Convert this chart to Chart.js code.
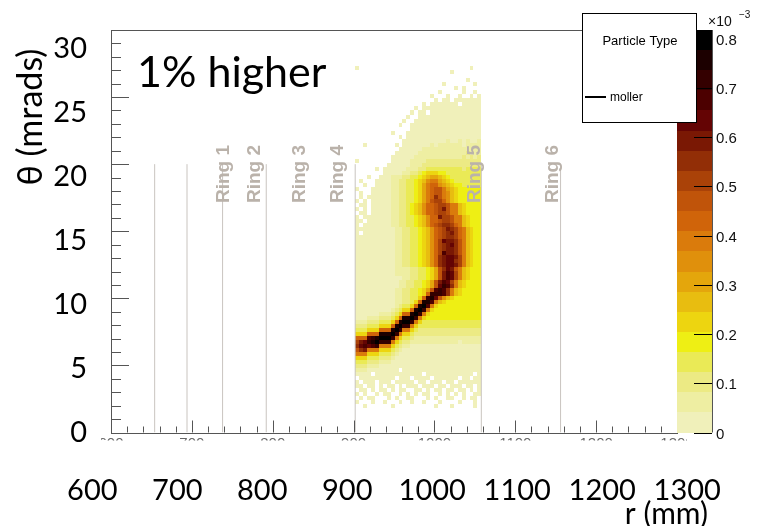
<!DOCTYPE html>
<html>
<head>
<meta charset="utf-8">
<script src="https://cdn.jsdelivr.net/npm/chart.js@4.4.0/dist/chart.umd.min.js"></script>
<style>
  html, body { margin: 0; padding: 0; background: #fff; }
  #wrap { width: 758px; height: 526px; }
</style>
</head>
<body>
<div id="wrap"><canvas id="c"></canvas></div>
<script>
// histogram binning (r in mm, theta in mrad)
const rMin = 902, rMax = 1058;
const thetaMin = 1.8, thetaStep = 0.3;
const zMax = 0.818;          // top of the colour scale, x1e-3
const nLevels = 20;

// one string per theta row, top row first; one char per r bin
// '.' = empty, '0'..'9','a'..'j' = colour level 0..19
const cells = [
  "........ ........ ........ ........",
  "........ ........ ........ ........",
  "0....... ........ ........ .....0..",
  "........ ........ ........ 0.......",
  "........ ........ ........ ........",
  "........ ........ ........ ....0...",
  "........ ........ ......0. ......0.",
  "........ ........ ........ .0.0....",
  "........ ........ .....0.. ...0..0.",
  "........ ........ ...0...0 ..0..0.0",
  "........ ........ ....0.00 .0000000",
  "........ ........ .0.00000 00.00000",
  "........ .......0 .0000000 00000000",
  "........ ......0. 00.00000 00000000",
  "........ .....0.. 00000000 00000000",
  "........ ....0..0 00000000 00000000",
  "........ ...0..00 00000000 00000000",
  "........ ......00 00000000 00000000",
  "........ .0...000 00000000 00000000",
  "........ ...0.000 00000000 00000000",
  "........ ....0000 00000001 00101001",
  "..0..... ..0.0000 00010111 11101111",
  "........ ...00000 01111111 11111111",
  "........ ..000000 11111111 11112111",
  "........ .0000001 11111111 11121212",
  "0....... .0000011 11222222 22222222",
  "........ 00000011 12222222 22222222",
  ".....0.0 00000111 22333333 33323333",
  ".......0 00001122 34555443 33333333",
  "...0..00 01112233 45677654 33333333",
  ".0...000 01122334 56899765 43333333",
  "..0..000 01122334 579aa876 54433333",
  "0...0000 01122334 579abb97 65444444",
  ".0..0000 01122334 579abb98 65444444",
  ".0.00000 01122334 579adb98 65444444",
  "0.0.0000 01122334 579bcca8 65444444",
  ".00.0000 01122345 68aabccb 99654444",
  "0.0.0000 01122345 68aabceb 99654444",
  ".00.0000 01122345 68aabccb 99654444",
  "0.000000 01122334 568aaecc b9965444",
  "00.00000 01122334 568aabcc b9965444",
  "0.000000 01122334 568abcdd ca965444",
  "00000000 00112233 4568abce dca96544",
  "0.000000 00112233 4568abcd eca96544",
  "00000000 00112233 4568abcd dca96544",
  "00000000 00112233 4568acfe edb96544",
  "00000000 00112233 4568acde fdb96544",
  "00000000 00112233 4568acde edb96544",
  "00000000 00112233 4568acge edb96544",
  "00000000 00112233 4568adef fec96544",
  "00000000 00112233 4568adef fdc96544",
  "00000000 00112233 4568adef fec96544",
  "00000000 00111122 33457bdf eb965444",
  "00000000 00111122 33457beg fc965444",
  "00000000 00001122 33457beg fc965444",
  "00000000 00011223 3457begf c9654444",
  "00000000 00011223 3457bfhg d9654444",
  "00000000 00112233 457bghgd 96544444",
  "00000000 00112233 45ahhhgd 96544444",
  "00000000 00112233 5ahifb86 54444444",
  "00000000 00112235 aiig9654 44444444",
  "00000000 0012335a ijg95444 44444444",
  "00000000 012355ai jh954444 44444444",
  "00000011 1235aaij h9544444 44444444",
  "00011122 235aiijh 95444444 44444444",
  "11122233 35aijjh9 53333333 33333333",
  "22233355 5aijhh95 33333333 33333333",
  "333555aa aijh9953 22222222 22222222",
  "555aaaii ijh95532 22222222 22222222",
  "aaaghijj jh953321 11111111 11111111",
  "cefhijhh h9532211 11111111 11011111",
  "dfgfgh99 95321100 00000000 00000000",
  "bde99955 53210000 00000000 00000000",
  "99955533 32100000 00000000 00000000",
  "55533322 21000000 00000000 00000000",
  "33322211 10000000 00000000 00000000",
  "22211100 00000000 00000000 00000000",
  "11100000 000.0000 00000000 00000000",
  "0000.000 00000000 0.000000 000000.0",
  ".0000000 00.000.0 000.0000 00.00.00",
  "0.000.00 0.00000. 00.000.0 0.000000",
  "00.00.0. 00.0.000 .000.00. 000.00.0",
  ".00.0.00 .0.00..0 0.0.00.0 0.00.0.0",
  "0.0..0.0 0..0.0.0 .00..0.0 .0.0..00",
  ".0.00... 0.0..00. ..0.0..0 0..0.00.",
  "0...0..0 ...0..0. .0...0.. ..0...0.",
  "..0..... .0...... ....0... 0.....0."
];

// ring boundaries (mm), drawn up to ringTop mrad
const ringR = [654, 694, 738, 792, 902, 1058, 1156];
const ringTop = 20;
const ringNames = ["Ring 1", "Ring 2", "Ring 3", "Ring 4", "Ring 5", "Ring 6"];
const ringLabelR = [740, 778, 834, 881, 1050, 1146];
const ringLabelTheta = 17.1;

const xTicks = [600, 700, 800, 900, 1000, 1100, 1200, 1300];
const yTicks = [0, 5, 10, 15, 20, 25, 30];
const zTicks = [0, 0.1, 0.2, 0.3, 0.4, 0.5, 0.6, 0.7, 0.8];

// inverted dark body radiator
const palette = [
  "#f0f0ba", "#eeeea2", "#ecea84", "#eaea56", "#eeef14",
  "#edd510", "#e8bd10", "#e4a60c", "#e0900c", "#da7b0c",
  "#d0640a", "#c0540a", "#aa4208", "#922e06", "#7a1804",
  "#640404", "#4c0000", "#340000", "#1c0000", "#000000"
];

const bigFont = { family: "Lato, 'Open Sans', sans-serif", size: 29 };
const rootFont = "'Liberation Sans', Arial, sans-serif";

function drawCells(chart) {
  const ctx = chart.ctx;
  const xs = chart.scales.xr, ys = chart.scales.yr;
  const rows = cells.map(s => s.replace(/ /g, ""));
  const nCols = rows[0].length;
  const rStep = (rMax - rMin) / nCols;
  ctx.save();
  rows.forEach((row, k) => {
    const th0 = thetaMin + (rows.length - 1 - k) * thetaStep;
    const y0 = Math.round(ys.getPixelForValue(th0 + thetaStep));
    const y1 = Math.round(ys.getPixelForValue(th0));
    for (let c = 0; c < nCols; c++) {
      const ch = row[c];
      if (ch === ".") continue;
      const value = (parseInt(ch, 36) + 0.5) * zMax / nLevels;
      const lvl = Math.min(nLevels - 1, Math.floor(value / zMax * nLevels));
      const x0 = Math.round(xs.getPixelForValue(rMin + c * rStep));
      const x1 = Math.round(xs.getPixelForValue(rMin + (c + 1) * rStep));
      ctx.fillStyle = palette[lvl];
      ctx.fillRect(x0, y0, x1 - x0, y1 - y0);
    }
  });
  ctx.restore();
}

function drawFrame(chart) {
  const ctx = chart.ctx;
  const a = chart.chartArea;
  const xs = chart.scales.xr, ys = chart.scales.yr;
  ctx.save();
  ctx.strokeStyle = "#555";
  ctx.lineWidth = 1;
  ctx.beginPath();
  for (let v = 600; v <= 1300; v += 20) {
    const px = Math.round(xs.getPixelForValue(v)) + 0.5;
    const len = v % 100 === 0 ? 12 : 6;
    ctx.moveTo(px, a.bottom);
    ctx.lineTo(px, a.bottom - len);
  }
  for (let t = 0; t <= 30; t += 1) {
    const py = Math.round(ys.getPixelForValue(t)) + 0.5;
    const len = t % 5 === 0 ? 18 : 10;
    ctx.moveTo(a.left, py);
    ctx.lineTo(a.left + len, py);
  }
  ctx.stroke();
  ctx.strokeRect(Math.round(a.left) + 0.5, Math.round(a.top) + 0.5,
    Math.round(a.right - a.left), Math.round(a.bottom - a.top));

  // the original small ROOT tick labels, cut off under the frame
  ctx.beginPath();
  ctx.rect(a.left - 10, a.bottom + 3, a.right - a.left + 20, 5);
  ctx.clip();
  ctx.fillStyle = "#666";
  ctx.font = "15px " + rootFont;
  ctx.textAlign = "center";
  ctx.textBaseline = "top";
  xTicks.forEach(v => ctx.fillText(String(v), xs.getPixelForValue(v), a.bottom + 4));
  ctx.restore();
}

function drawRingLabels(chart) {
  const ctx = chart.ctx;
  const xs = chart.scales.xr, ys = chart.scales.yr;
  ctx.save();
  ctx.fillStyle = "#bab2aa";
  ctx.font = "bold 19px " + rootFont;
  ctx.textAlign = "left";
  ctx.textBaseline = "middle";
  ringNames.forEach((name, i) => {
    ctx.save();
    ctx.translate(xs.getPixelForValue(ringLabelR[i]), ys.getPixelForValue(ringLabelTheta));
    ctx.rotate(-Math.PI / 2);
    ctx.fillText(name, 0, 0);
    ctx.restore();
  });
  ctx.restore();
}

function drawPalette(chart) {
  const ctx = chart.ctx;
  const zs = chart.scales.z;
  const x0 = chart.chartArea.right, x1 = x0 + 35;
  ctx.save();
  for (let k = 0; k < nLevels; k++) {
    const yTop = Math.round(zs.getPixelForValue((k + 1) * zMax / nLevels));
    const yBot = Math.round(zs.getPixelForValue(k * zMax / nLevels));
    ctx.fillStyle = palette[k];
    ctx.fillRect(x0, yTop, x1 - x0, yBot - yTop);
  }
  ctx.strokeStyle = "#555";
  ctx.beginPath();
  ctx.moveTo(x1 + 0.5, chart.chartArea.top);
  ctx.lineTo(x1 + 0.5, chart.chartArea.bottom);
  ctx.stroke();
  ctx.strokeStyle = "#000";
  ctx.fillStyle = "#111";
  ctx.font = "15px " + rootFont;
  ctx.textAlign = "left";
  ctx.textBaseline = "middle";
  ctx.beginPath();
  zTicks.forEach(z => {
    const py = Math.round(zs.getPixelForValue(z)) + 0.5;
    ctx.moveTo(x1, py);
    ctx.lineTo(x1 - 18, py);
    ctx.fillText(z === 0 ? "0" : z.toFixed(1), x1 + 4, py + 1);
  });
  ctx.stroke();
  ctx.font = "14px " + rootFont;
  ctx.fillText("\u00d710", x1 - 4, 22);
  ctx.font = "10px " + rootFont;
  ctx.fillText("\u22123", x1 + 27, 15);
  ctx.restore();
}

function drawLegendBox(chart) {
  const ctx = chart.ctx;
  ctx.save();
  ctx.fillStyle = "#fff";
  ctx.fillRect(582, 13, 115, 110);
  ctx.strokeStyle = "#000";
  ctx.lineWidth = 1;
  ctx.strokeRect(582.5, 13.5, 114, 109);
  ctx.fillStyle = "#000";
  ctx.font = "13px " + rootFont;
  ctx.textAlign = "center";
  ctx.textBaseline = "middle";
  ctx.fillText("Particle Type", 640, 41);
  ctx.lineWidth = 2;
  ctx.beginPath();
  ctx.moveTo(585, 97);
  ctx.lineTo(606, 97);
  ctx.stroke();
  ctx.font = "12px " + rootFont;
  ctx.textAlign = "left";
  ctx.fillText("moller", 610, 98);
  ctx.restore();
}

function drawTexts(chart) {
  const ctx = chart.ctx;
  ctx.save();
  ctx.fillStyle = "#000";
  ctx.font = "43px " + bigFont.family;
  ctx.textAlign = "left";
  ctx.textBaseline = "alphabetic";
  ctx.fillText("1% higher", 137, 87);
  ctx.font = "30px " + bigFont.family;
  ctx.textAlign = "right";
  ctx.textBaseline = "middle";
  ctx.fillText("r (mm)", 708, 514);
  ctx.font = "34px " + bigFont.family;
  ctx.translate(31, 117);
  ctx.rotate(-Math.PI / 2);
  ctx.textAlign = "center";
  ctx.fillText("\u03b8 (mrads)", 0, 0);
  ctx.restore();
}

const rootPlugin = {
  id: "rootPad",
  beforeDatasetsDraw(chart) {
    drawCells(chart);
  },
  afterDatasetsDraw(chart) {
    drawFrame(chart);
    drawRingLabels(chart);
    drawPalette(chart);
    drawLegendBox(chart);
    drawTexts(chart);
  }
};

const ringSets = ringR.map(r => ({
  data: [{ x: r, y: 0 }, { x: r, y: ringTop }],
  showLine: true,
  borderColor: "#c9c4bf",
  borderWidth: 1,
  pointRadius: 0,
  xAxisID: "xr",
  yAxisID: "yr"
}));

new Chart(document.getElementById("c"), {
  type: "scatter",
  data: { datasets: ringSets },
  options: {
    responsive: true,
    maintainAspectRatio: false,
    animation: false,
    layout: { padding: { left: 0, right: 81, top: 30, bottom: 0 } },
    plugins: { legend: { display: false }, tooltip: { enabled: false } },
    scales: {
      x: {
        type: "linear",
        position: "bottom",
        min: 622,
        max: 1288,
        afterBuildTicks: s => { s.ticks = xTicks.map(v => ({ value: v })); },
        afterFit: s => { s.height = 93.5; s.paddingLeft = 0; s.paddingRight = 0; },
        grid: { display: false, drawTicks: false },
        border: { display: false },
        ticks: { font: bigFont, color: "#000", padding: 41, maxRotation: 0, autoSkip: false,
                 callback: v => String(v) }
      },
      y: {
        type: "linear",
        position: "left",
        min: 0,
        max: 31.44,
        afterBuildTicks: s => { s.ticks = yTicks.map(v => ({ value: v })); },
        afterFit: s => { s.width = 111; s.paddingTop = 0; s.paddingBottom = 0; },
        grid: { display: false, drawTicks: false },
        border: { display: false },
        ticks: { font: bigFont, color: "#000", padding: 24, autoSkip: false,
                 callback: v => String(v) }
      },
      xr: { type: "linear", display: false, min: 600, max: 1300 },
      yr: { type: "linear", display: false, min: 0, max: 30 },
      z: { type: "linear", axis: "y", display: false, min: 0, max: zMax }
    }
  },
  plugins: [rootPlugin]
});
</script>
</body>
</html>
